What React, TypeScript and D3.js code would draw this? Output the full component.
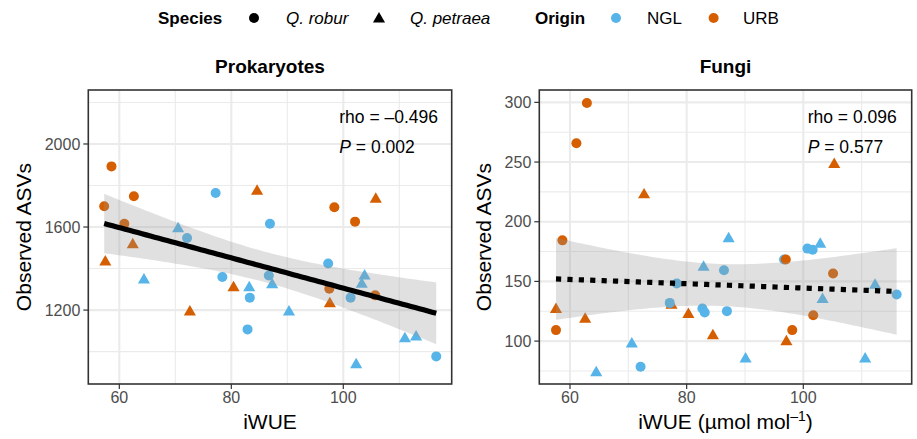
import React from 'react';
import * as d3 from 'd3';

// Prokaryotes panel: iWUE vs observed ASVs
const prokIwue = [58.6, 57.3, 62.6, 60.9, 62.4, 57.5, 64.4, 70.5, 72.1, 77.2, 84.6, 78.4, 80.4, 83.2, 83.3, 82.9, 72.6, 86.9, 86.7, 87.3, 90.3, 97.3, 97.5, 97.6, 98.4, 102.1, 105.8, 101.3, 103.8, 103.3, 105.7, 102.3, 111.0, 113.0, 116.6];
const prokAsv = [1892, 1700, 1748, 1616, 1515, 1431, 1345, 1592, 1547, 1764, 1772, 1359, 1308, 1308, 1260, 1107, 1191, 1616, 1367, 1322, 1191, 1424, 1303, 1231, 1695, 1626, 1734, 1260, 1364, 1324, 1271, 937, 1062, 1070, 977];
const prokSpecies = ['R', 'R', 'R', 'R', 'P', 'P', 'P', 'P', 'R', 'R', 'P', 'R', 'P', 'P', 'R', 'R', 'P', 'R', 'R', 'P', 'P', 'R', 'R', 'P', 'R', 'R', 'P', 'R', 'P', 'P', 'R', 'P', 'P', 'P', 'R'];
const prokOrigin = ['U', 'U', 'U', 'U', 'U', 'U', 'N', 'N', 'N', 'N', 'U', 'N', 'U', 'N', 'N', 'N', 'U', 'N', 'N', 'N', 'N', 'N', 'U', 'U', 'U', 'U', 'U', 'N', 'N', 'N', 'U', 'N', 'N', 'N', 'N'];

// Fungi panel
const fungIwue = [62.9, 61.1, 72.7, 105.3, 58.7, 57.6, 57.6, 62.6, 70.6, 64.5, 72.1, 77.4, 77.1, 78.3, 80.3, 82.9, 82.7, 83.1, 84.5, 86.4, 87.2, 86.9, 90.1, 96.7, 97.0, 97.1, 98.1, 100.7, 101.6, 102.9, 103.3, 105.1, 101.7, 112.3, 110.6, 116.0];
const fungAsv = [299.5, 265.7, 222.5, 248, 184.4, 126.4, 109.2, 118.4, 97.5, 73.5, 78.5, 130.1, 132, 148.2, 122.3, 161.9, 127.3, 124, 104.4, 159.3, 185.8, 125.1, 85, 168.3, 168.3, 99.4, 109.2, 177.5, 176.6, 181.1, 134.8, 156.6, 121.7, 146.8, 85, 139];
const fungSpecies = ['R', 'R', 'P', 'P', 'R', 'P', 'R', 'P', 'P', 'P', 'R', 'P', 'R', 'R', 'P', 'P', 'R', 'R', 'P', 'R', 'P', 'R', 'P', 'R', 'R', 'P', 'R', 'R', 'R', 'P', 'P', 'R', 'R', 'P', 'P', 'R'];
const fungOrigin = ['U', 'U', 'U', 'U', 'U', 'U', 'U', 'U', 'N', 'N', 'N', 'U', 'N', 'N', 'U', 'N', 'N', 'N', 'U', 'N', 'N', 'N', 'N', 'N', 'U', 'U', 'U', 'N', 'N', 'N', 'N', 'U', 'U', 'N', 'N', 'N'];

const prokYTicks = [1200, 1600, 2000];
const prokYMinor = [1000, 1400, 1800, 2200];
const fungYTicks = [100, 150, 200, 250, 300];
const fungYMinor = [75, 125, 175, 225, 275];
const xTicks = [60, 80, 100];
const xMinor = [70, 90, 110];

const originColor: Record<string, string> = { N: '#56B4E9', U: '#D55E00' };
const FONT = '"Liberation Sans", Arial, Helvetica, sans-serif';
const T975 = 2.03;

// linear fit with 95% confidence band, like geom_smooth(method = "lm")
function lmBand(xs: number[], ys: number[]) {
  const n = xs.length;
  const mx = d3.mean(xs)!;
  const my = d3.mean(ys)!;
  const sxx = d3.sum(xs, x => (x - mx) ** 2);
  const sxy = d3.sum(xs.map((x, i) => (x - mx) * (ys[i] - my)));
  const b = sxy / sxx;
  const a = my - b * mx;
  const rss = d3.sum(xs.map((x, i) => (ys[i] - a - b * x) ** 2));
  const s = Math.sqrt(rss / (n - 2));
  const [lo, hi] = d3.extent(xs) as [number, number];
  return d3.range(80).map(i => {
    const x = lo + ((hi - lo) * i) / 79;
    const fit = a + b * x;
    const se = s * Math.sqrt(1 / n + (x - mx) ** 2 / sxx);
    return { x, fit, lo: fit - T975 * se, hi: fit + T975 * se };
  });
}

function triPath(cx: number, cy: number, R = 4.5) {
  const r = 1.5551 * R;
  const xc = 1.3468 * R;
  const yc = 0.7776 * R;
  return `M${cx},${cy - r}L${cx + xc},${cy + yc}L${cx - xc},${cy + yc}Z`;
}

function Marker({ x, y, sp, col }: { x: number; y: number; sp: string; col: string }) {
  return sp === 'P' ? <path d={triPath(x, y)} fill={col} /> : <circle cx={x} cy={y} r={5} fill={col} />;
}

type PanelProps = {
  title: string;
  xs: number[]; ys: number[]; species: string[]; origin: string[];
  xRange: [number, number]; xDomain: [number, number];
  yDomain: [number, number]; yTicks: number[]; yMinor: number[];
  dotted: boolean; rho: string; p: string; labelX: number;
  xTitle: React.ReactNode; yTitleX: number;
};

const TOP = 90, BOTTOM = 384;

function Panel(props: PanelProps) {
  const { xs, ys, species, origin, xRange, xDomain, yDomain, yTicks, yMinor } = props;
  const x = d3.scaleLinear().domain(xDomain).range(xRange);
  const y = d3.scaleLinear().domain(yDomain).range([BOTTOM, TOP]);
  const band = lmBand(xs, ys);
  const area = d3.area<any>().x(d => x(d.x)).y0(d => y(d.lo)).y1(d => y(d.hi))(band)!;
  const line = d3.line<any>().x(d => x(d.x)).y(d => y(d.fit))(band)!;
  const [x0, x1] = xRange;
  const cx = (x0 + x1) / 2;
  return (
    <g>
      <text x={cx} y={73} textAnchor="middle" fontSize={19} fontWeight="bold">{props.title}</text>
      <rect x={x0} y={TOP} width={x1 - x0} height={BOTTOM - TOP} fill="#fff" />
      {yMinor.map(t => <line key={'ym' + t} x1={x0} x2={x1} y1={y(t)} y2={y(t)} stroke="#EBEBEB" strokeWidth={1.1} />)}
      {xMinor.map(t => <line key={'xm' + t} y1={TOP} y2={BOTTOM} x1={x(t)} x2={x(t)} stroke="#EBEBEB" strokeWidth={1.1} />)}
      {yTicks.map(t => <line key={'y' + t} x1={x0} x2={x1} y1={y(t)} y2={y(t)} stroke="#EBEBEB" strokeWidth={2.1} />)}
      {xTicks.map(t => <line key={'x' + t} y1={TOP} y2={BOTTOM} x1={x(t)} x2={x(t)} stroke="#EBEBEB" strokeWidth={2.1} />)}
      {xs.map((v, i) => <Marker key={i} x={x(v)} y={y(ys[i])} sp={species[i]} col={originColor[origin[i]]} />)}
      <path d={area} fill="#999999" fillOpacity={0.3} />
      <path d={line} fill="none" stroke="#000" strokeWidth={5.2}
        strokeDasharray={props.dotted ? '5.2 6.2' : undefined} />
      <rect x={x0} y={TOP} width={x1 - x0} height={BOTTOM - TOP} fill="none" stroke="#333" strokeWidth={1.6} />
      <text x={props.labelX} y={122.7} fontSize={17.5}>{props.rho}</text>
      <text x={props.labelX} y={152.7} fontSize={17.5}>
        <tspan fontStyle="italic">P</tspan> = {props.p}
      </text>
      {yTicks.map(t => (
        <g key={'yt' + t}>
          <line x1={x0 - 5} x2={x0} y1={y(t)} y2={y(t)} stroke="#333" strokeWidth={1.2} />
          <text x={x0 - 8} y={y(t)} dy="0.36em" textAnchor="end" fontSize={16} fill="#4D4D4D">{t}</text>
        </g>
      ))}
      {xTicks.map(t => (
        <g key={'xt' + t}>
          <line y1={BOTTOM} y2={BOTTOM + 5} x1={x(t)} x2={x(t)} stroke="#333" strokeWidth={1.2} />
          <text x={x(t)} y={BOTTOM + 19} textAnchor="middle" fontSize={16} fill="#4D4D4D">{t}</text>
        </g>
      ))}
      <text x={cx} y={429} textAnchor="middle" fontSize={21}>{props.xTitle}</text>
      <text transform={`translate(${props.yTitleX},${(TOP + BOTTOM) / 2}) rotate(-90)`} textAnchor="middle" fontSize={21}>Observed ASVs</text>
    </g>
  );
}

function Legend() {
  const cy = 18;
  return (
    <g fontSize={17}>
      <text x={158} y={cy + 6} fontWeight="bold">Species</text>
      <circle cx={254} cy={cy} r={5} fill="#000" />
      <text x={286} y={cy + 6} fontStyle="italic">Q. robur</text>
      <path d={triPath(379, cy + 1)} fill="#000" />
      <text x={410} y={cy + 6} fontStyle="italic">Q. petraea</text>
      <text x={535} y={cy + 6} fontWeight="bold">Origin</text>
      <circle cx={616} cy={cy} r={5} fill={originColor.N} />
      <text x={647} y={cy + 6}>NGL</text>
      <circle cx={713.6} cy={cy} r={5} fill={originColor.U} />
      <text x={743} y={cy + 6}>URB</text>
    </g>
  );
}

export default function App() {
  return (
    <svg width={917} height={439} style={{ position: 'absolute', left: 0, top: 0, background: '#fff' }} fontFamily={FONT}>
      <rect width={917} height={439} fill="#fff" />
      <Legend />
      <Panel title="Prokaryotes" xs={prokIwue} ys={prokAsv} species={prokSpecies} origin={prokOrigin}
        xRange={[88.3, 451.7]} xDomain={[54.46, 119.36]} yDomain={[844, 2260]}
        yTicks={prokYTicks} yMinor={prokYMinor} dotted={false} rho="rho = –0.496" p="0.002" labelX={339.3}
        xTitle="iWUE" yTitleX={31} />
      <Panel title="Fungi" xs={fungIwue} ys={fungAsv} species={fungSpecies} origin={fungOrigin}
        xRange={[539.3, 911.7]} xDomain={[54.74, 118.58]} yDomain={[64.06, 310.36]}
        yTicks={fungYTicks} yMinor={fungYMinor} dotted={true} rho="rho = 0.096" p="0.577" labelX={807.7}
        xTitle={<><tspan>iWUE (µmol mol</tspan><tspan dy={-8} fontSize={14}>–1</tspan><tspan dy={8}>)</tspan></>}
        yTitleX={491} />
    </svg>
  );
}
